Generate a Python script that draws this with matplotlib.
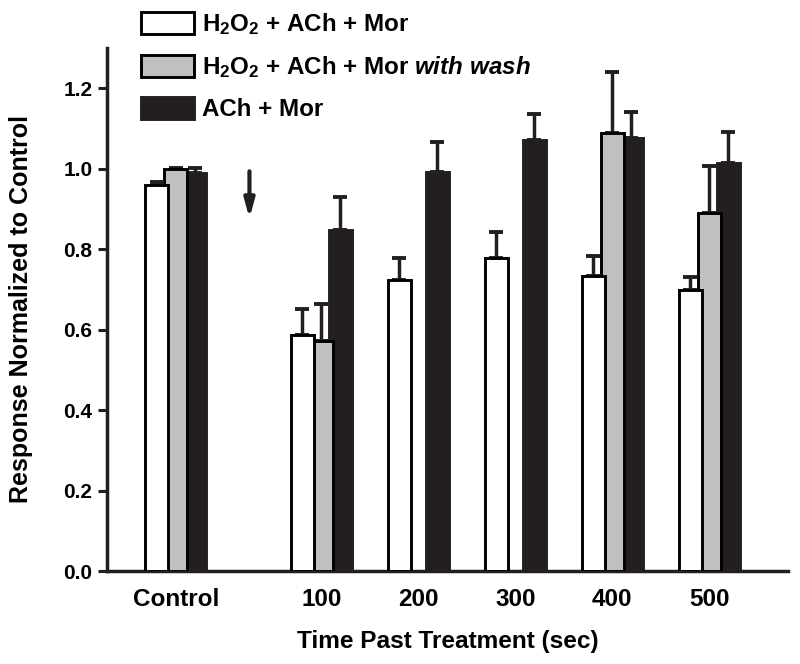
import numpy as np
import matplotlib
matplotlib.use("Agg")
import matplotlib.pyplot as plt

plt.rcParams['font.family'] = ['Liberation Sans', 'DejaVu Sans']
plt.rcParams['font.weight'] = 'bold'
plt.rcParams['mathtext.fontset'] = 'custom'
plt.rcParams['mathtext.rm'] = 'Liberation Sans:bold'
plt.rcParams['mathtext.it'] = 'Liberation Sans:bold:italic'
plt.rcParams['mathtext.bf'] = 'Liberation Sans:bold'
plt.rcParams['mathtext.default'] = 'rm'

# datos
grupos = ['Control', '100', '200', '300', '400', '500']
h2o2_ach_mor = [0.959, 0.586, 0.723, 0.778, 0.734, 0.698]
h2o2_ach_mor_err = [0.008, 0.064, 0.056, 0.065, 0.049, 0.032]
h2o2_wash = [0.998, 0.572, np.nan, np.nan, 1.089, 0.890]
h2o2_wash_err = [0.003, 0.091, np.nan, np.nan, 0.150, 0.116]
ach_mor = [0.990, 0.847, 0.992, 1.071, 1.075, 1.014]
ach_mor_err = [0.011, 0.083, 0.075, 0.064, 0.065, 0.077]

etiquetas = [r'H$_2$O$_2$ + ACh + Mor',
             r'H$_2$O$_2$ + ACh + Mor $\mathit{with\ wash}$',
             'ACh + Mor']

negro = '#231f20'

fig = plt.figure(figsize=(8.0, 6.64), dpi=100)
ax = fig.add_axes([0.134, 0.140, 0.851, 0.788])

# control separado del resto por un hueco
x = np.array([-0.5, 1, 2, 3, 4, 5])
paso = 0.195
ancho = 0.24

series = [
    (h2o2_ach_mor, h2o2_ach_mor_err, 'white', -paso, 3),
    (h2o2_wash, h2o2_wash_err, '#c0c0c0', 0.0, 2),
    (ach_mor, ach_mor_err, negro, paso, 1),
]
barras = []
for (vals, err, color, dx, z), lab in zip(series, etiquetas):
    vals = np.array(vals, dtype=float)
    err = np.array(err, dtype=float)
    b = ax.bar(x + dx, vals, width=ancho, color=color, edgecolor='black' if color != negro else negro,
               linewidth=2.1, label=lab, zorder=z + 1)
    ax.errorbar(x + dx, vals, yerr=[np.zeros_like(err), err], fmt='none', ecolor=negro,
                elinewidth=2.5, capsize=4.7, capthick=2.8, zorder=z + 0.5)
    barras.append(b)

# flecha del tratamiento
ax.annotate('', xy=(0.26, 0.869), xytext=(0.26, 1.0),
            arrowprops=dict(arrowstyle='-|>,head_length=1.1,head_width=0.3', color=negro, lw=3.0))

ax.set_xlim(-1.206, 5.81)
ax.set_ylim(0, 1.3)
ax.set_xticks(x)
ax.set_xticklabels(grupos, fontsize=17.5, fontweight='bold')
ax.set_yticks([0.0, 0.2, 0.4, 0.6, 0.8, 1.0, 1.2])
ax.set_yticklabels(['0.0', '0.2', '0.4', '0.6', '0.8', '1.0', '1.2'], fontsize=15, fontweight='bold')
ax.tick_params(axis='x', length=0, pad=12)
ax.tick_params(axis='y', length=6.5, width=2.2, pad=4, color=negro)
ax.spines['top'].set_visible(False)
ax.spines['right'].set_visible(False)
ax.spines['left'].set_linewidth(2.5)
ax.spines['bottom'].set_linewidth(2.5)
ax.spines['left'].set_color(negro)
ax.spines['bottom'].set_color(negro)

ax.set_xlabel('Time Past Treatment (sec)', fontsize=17.6, fontweight='bold', labelpad=14)
ax.set_ylabel('Response Normalized to Control', fontsize=18, fontweight='bold', labelpad=22)

fig.legend(handles=barras, labels=etiquetas, loc='upper left', bbox_to_anchor=(0.176, 0.983),
           frameon=False, fontsize=17.4, handlelength=2.2, handleheight=1.05,
           handletextpad=0.35, labelspacing=0.7, borderpad=0.0, borderaxespad=0.0)

fig.savefig('out.png', dpi=100)
